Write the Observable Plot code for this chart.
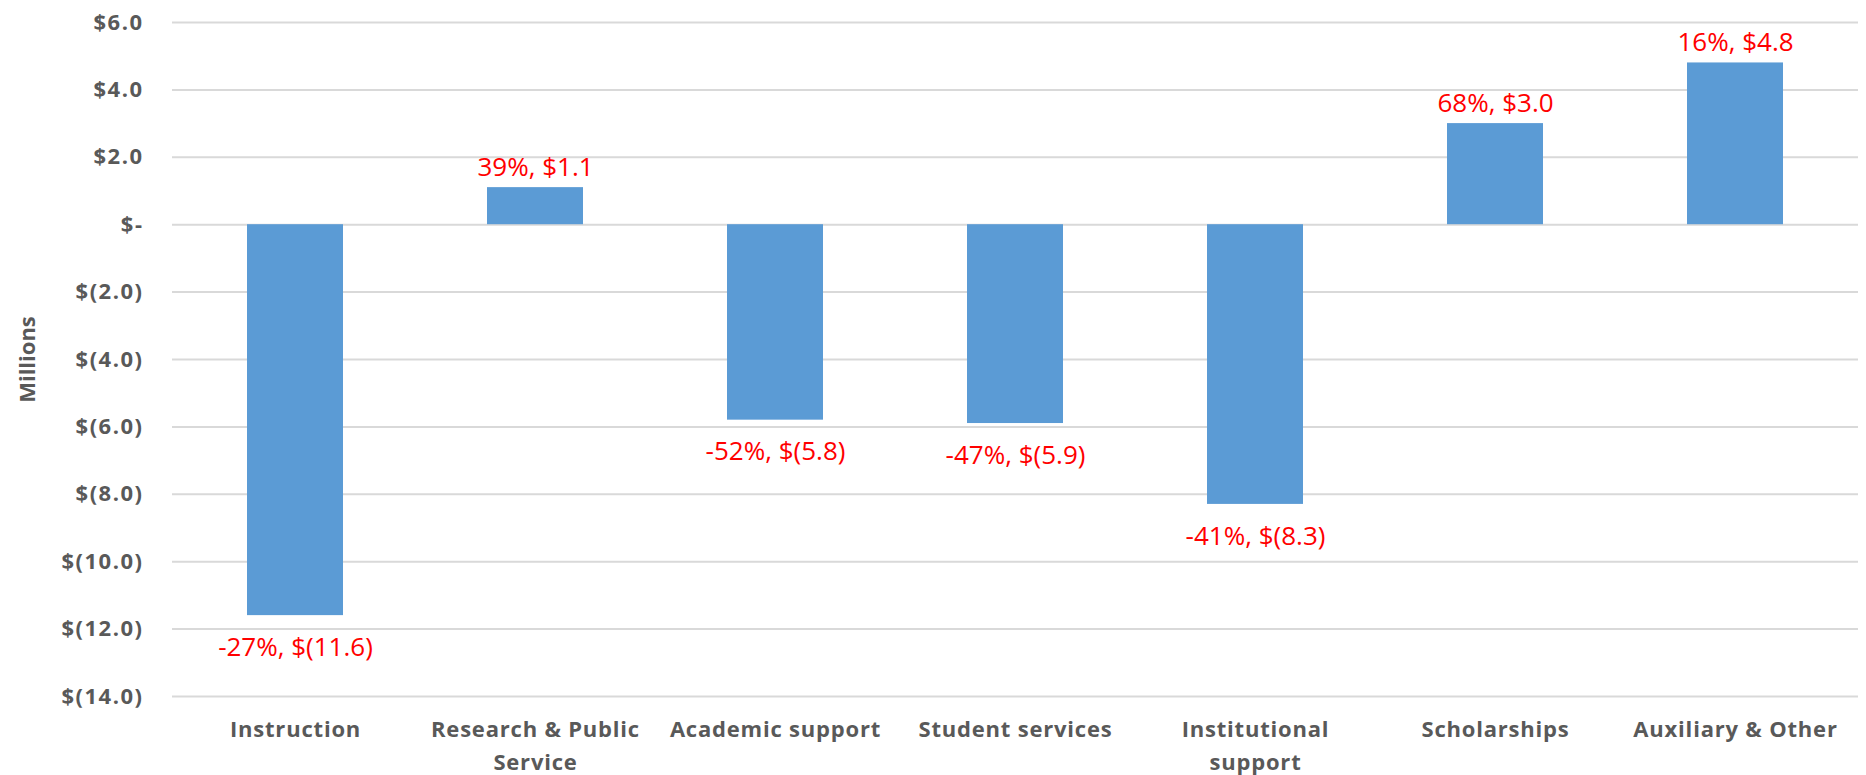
<!DOCTYPE html>
<html>
<head>
<meta charset="utf-8">
<script src="https://cdn.jsdelivr.net/npm/d3@7"></script>
<script src="https://cdn.jsdelivr.net/npm/@observablehq/plot@0.6"></script>
<style>
  html, body { margin: 0; padding: 0; background: #fff; }
  #chart svg { display: block; }
  g[aria-label="y-axis tick label"] text { letter-spacing: 1.5px; }
  g[aria-label="x-axis tick label"] text { letter-spacing: 0.8px; }
  g[aria-label="data-labels"] text { letter-spacing: 1.6px; }
</style>
</head>
<body>
<div id="chart"></div>
<script>
const categories = ["Instruction", "Research & Public Service", "Academic support", "Student services", "Institutional support", "Scholarships", "Auxiliary & Other"];
const tickLabels = ["Instruction", "Research & Public\nService", "Academic support", "Student services", "Institutional\nsupport", "Scholarships", "Auxiliary & Other"];
const values = [-11.6, 1.1, -5.8, -5.9, -8.3, 3.0, 4.8];
const pctChange = [-27, 39, -52, -47, -41, 68, 16];
const yTicks = [6, 4, 2, 0, -2, -4, -6, -8, -10, -12, -14];

const money = v => v === 0 ? "$-" : v < 0 ? `$(${(-v).toFixed(1)})` : `$${v.toFixed(1)}`;
const data = categories.map((c, i) => ({
  category: c,
  value: values[i],
  label: `${pctChange[i]}%, ${money(values[i])}`
}));
const tickMap = new Map(categories.map((c, i) => [c, tickLabels[i]]));

const chart = Plot.plot({
  width: 1866,
  height: 775,
  marginLeft: 172,
  marginRight: 8,
  marginTop: 22,
  marginBottom: 79,
  style: { fontFamily: "'Open Sans', sans-serif", background: "#fff" },
  x: { domain: categories, paddingInner: 0.6, paddingOuter: 0.3 },
  y: { domain: [-14, 6] },
  marks: [
    Plot.gridY(yTicks, { stroke: "#d9d9d9", strokeWidth: 2, strokeOpacity: 1 }),
    Plot.axisY(yTicks, {
      tickSize: 0, tickPadding: 29, tickFormat: money, label: null,
      fontSize: 22, fontWeight: "bold", fill: "#595959"
    }),
    Plot.axisX({
      tickSize: 0, tickPadding: 17, tickFormat: d => tickMap.get(d), label: null,
      fontSize: 22, fontWeight: "bold", fill: "#595959", lineHeight: 1.5
    }),
    Plot.barY(data, { x: "category", y: "value", fill: "#5b9bd5" }),
    Plot.text(data.filter(d => d.value >= 0), {
      x: "category", y: "value", text: "label", dy: -20, ariaLabel: "data-labels",
      fill: "#ff0000", fontSize: 26
    }),
    Plot.text(data.filter(d => d.value < 0), {
      x: "category", y: "value", text: "label", dy: 32, ariaLabel: "data-labels",
      fill: "#ff0000", fontSize: 26
    }),
    Plot.text(["Millions"], {
      frameAnchor: "left", textAnchor: "middle", dx: -145, rotate: -90,
      fontSize: 22, fontWeight: "bold", fill: "#595959"
    })
  ]
});
document.getElementById("chart").appendChild(chart);
</script>
</body>
</html>
